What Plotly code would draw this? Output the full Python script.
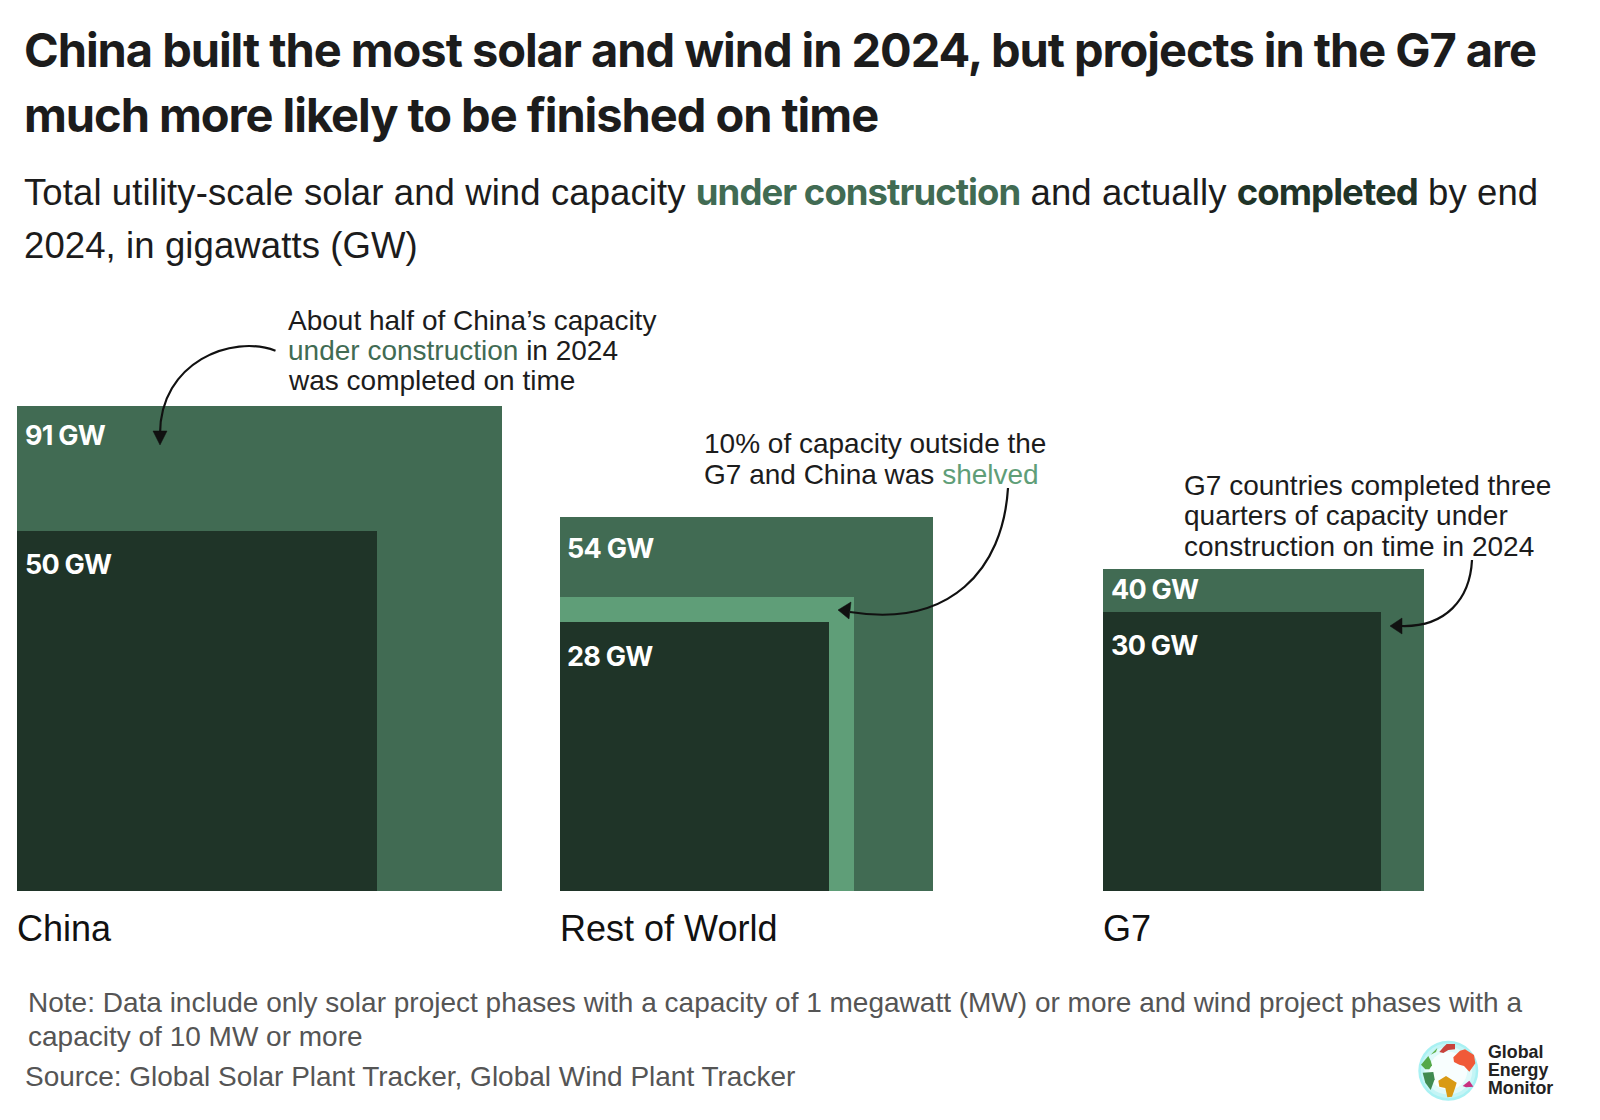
import math
import plotly.graph_objects as go

# ---- data (GW) ----
regions = ["China", "Rest of World", "G7"]
under_construction = [91, 54, 40]
completed = [50, 28, 30]
shelved_extent = [None, 33.4, None]   # completed + shelved (Rest of World only)

# ---- layout constants (pixels) ----
W, H = 1600, 1120
PX_PER_UNIT = 50.8
BASE_Y = 890.5
GROUP_LEFT = [17.3, 560.0, 1103.0]

DARK = "#1F3428"
MID = "#416B53"
LIGHT = "#5F9E78"
INK = "#1C1C1C"
GREY = "#555555"
SANS = "Liberation Sans"
HEAD = "Inter"


def ux(px):
    return px / PX_PER_UNIT


def side(v):
    return math.sqrt(v)


def X(px):
    return px / W


def Y(py):
    return 1 - py / H


fig = go.Figure()


def add_squares(values, color, name):
    idx = [i for i, v in enumerate(values) if v is not None]
    fig.add_trace(go.Bar(
        x=[ux(GROUP_LEFT[i]) + side(values[i]) / 2 for i in idx],
        y=[side(values[i]) for i in idx],
        width=[side(values[i]) for i in idx],
        marker=dict(color=color, line=dict(width=0)),
        name=name,
        customdata=[[regions[i], values[i]] for i in idx],
        hovertemplate="%{customdata[0]}: %{customdata[1]} GW<extra>" + name + "</extra>",
    ))


add_squares(under_construction, MID, "Under construction")
add_squares(shelved_extent, LIGHT, "Shelved")
add_squares(completed, DARK, "Completed")

anns = []


def text(x, y, s, size, color=INK, family=SANS, spacing=None):
    if spacing is not None:
        s = f'<span style="letter-spacing:{spacing}px">{s}</span>'
    anns.append(dict(
        xref="paper", yref="paper", x=X(x), y=Y(y), text=s, showarrow=False,
        xanchor="left", yanchor="middle", align="left", borderpad=0,
        font=dict(size=size, color=color, family=family),
    ))


def bold(s, color):
    return (f'<span style="font-family:{HEAD};font-weight:700;letter-spacing:-0.95px;'
            f'color:{color}">{s}</span>')


def plain(s):
    return f'<span style="letter-spacing:0.1px">{s}</span>'


# Title
text(23, 50, "<b>China built the most solar and wind in 2024, but projects in the G7 are</b>", 47, INK, HEAD, -1.05)
text(23, 115, "<b>much more likely to be finished on time</b>", 47, INK, HEAD, -1.05)
# Subtitle
text(23, 191.5, plain("Total utility-scale solar and wind capacity ") + bold("under construction", MID)
     + plain(" and actually ") + bold("completed", DARK) + plain(" by end"), 36.5, INK)
text(23, 245, plain("2024, in gigawatts (GW)"), 36.5, INK)

# Notes beside the squares
text(287, 320, "About half of China’s capacity", 28)
text(287, 350, f'<span style="color:{MID}">under construction</span> in 2024', 28)
text(287, 380.5, "was completed on time", 28)
text(703, 444, "10% of capacity outside the", 28)
text(703, 475, f'G7 and China was <span style="color:{LIGHT}">shelved</span>', 28)
text(1183, 485.5, "G7 countries completed three", 28)
text(1183, 516, "quarters of capacity under", 28)
text(1183, 547, "construction on time in 2024", 28)

# Value labels
value_labels = [
    (23.5, 435, under_construction[0]), (23.5, 564, completed[0]),
    (566, 548, under_construction[1]), (566, 656, completed[1]),
    (1110, 589, under_construction[2]), (1110, 645, completed[2]),
]
for lx, ly, v in value_labels:
    text(lx, ly, f"<b>{v} GW</b>", 27, "#FFFFFF", HEAD, -0.75)

# Region labels
for left, r in zip(GROUP_LEFT, regions):
    text(left - 1, 928, r, 36, "#111111")

# Footer
text(27, 1002, "Note: Data include only solar project phases with a capacity of 1 megawatt (MW) or more and wind project phases with a", 28, GREY)
text(27, 1036, "capacity of 10 MW or more", 28, GREY)
text(24, 1076.5, "Source: Global Solar Plant Tracker, Global Wind Plant Tracker", 28, GREY)

# Logo words
for ly, w in zip((1052, 1070, 1088), ("Global", "Energy", "Monitor")):
    text(1486.5, ly, f"<b>{w}</b>", 17.8, "#222222", SANS)

shapes = []


def path_from(cmds, **kw):
    out = []
    for c in cmds:
        if isinstance(c, str):
            out.append(c)
        else:
            out.append(f"{X(c[0]):.5f},{Y(c[1]):.5f}")
    shapes.append(dict(type="path", xref="paper", yref="paper", path=" ".join(out), layer="above", **kw))


def curve(p0, c1, c2, p1, tip, b1, b2):
    path_from(["M", p0, "C", c1, c2, p1], line=dict(color="#111111", width=2.2), fillcolor="rgba(0,0,0,0)")
    path_from(["M", tip, "L", b1, "L", b2, "Z"], line=dict(color="#111111", width=0.5), fillcolor="#111111")


curve((275.5, 350.7), (232, 334), (160, 362), (160, 434), (160, 445), (153, 431), (167, 431))
curve((1008, 488), (1003, 570), (950, 628), (850, 612), (838, 610), (851, 602), (849, 619))
curve((1472, 560), (1470, 600), (1445, 627), (1402, 626), (1390, 626), (1402, 618), (1402, 634))

# Logo globe
gx, gy = 1448.3, 1070.7
for r, col in ((30, "#A9F1F3"), (27.5, "#C4F5F6"), (24, "#E0FAFA"), (19, "#F8FEFE")):
    shapes.append(dict(type="circle", xref="paper", yref="paper", layer="above",
                       x0=X(gx - r), x1=X(gx + r), y0=Y(gy + r), y1=Y(gy - r),
                       line=dict(width=0), fillcolor=col))


def blob(points, col):
    cmds = ["M", (1400 + points[0][0] / 3, 1030 + points[0][1] / 3)]
    for p in points[1:]:
        cmds += ["L", (1400 + p[0] / 3, 1030 + p[1] / 3)]
    cmds.append("Z")
    path_from(cmds, line=dict(width=0), fillcolor=col)


blob([(160, 82), (180, 62), (195, 58), (222, 75), (226, 100), (208, 125), (192, 108), (178, 104), (162, 96)], "#F05A38")
blob([(118, 66), (130, 52), (140, 42), (165, 42), (165, 58), (145, 60), (130, 69)], "#C8423C")
blob([(92, 74), (112, 54), (108, 66)], "#5FB04C")
blob([(63, 104), (85, 78), (92, 92), (96, 106), (88, 118), (76, 118)], "#54A848")
blob([(68, 128), (100, 126), (104, 148), (92, 180), (76, 158)], "#3F8A50")
blob([(115, 152), (138, 138), (170, 158), (166, 172), (156, 200), (142, 202), (136, 174), (118, 170)], "#D99A14")
blob([(188, 168), (208, 152), (220, 170), (198, 172)], "#C8307F")

fig.update_layout(
    width=W, height=H, margin=dict(l=0, r=0, t=0, b=0),
    paper_bgcolor="#FFFFFF", plot_bgcolor="#FFFFFF",
    barmode="overlay", bargap=0, showlegend=False,
    xaxis=dict(range=[0, ux(W)], visible=False, fixedrange=True),
    yaxis=dict(range=[ux(BASE_Y - H), ux(BASE_Y)], visible=False, fixedrange=True),
    annotations=anns, shapes=shapes,
)
fig.write_html("out.html", post_script="document.body.style.margin='0';",
               config={"displayModeBar": False})
